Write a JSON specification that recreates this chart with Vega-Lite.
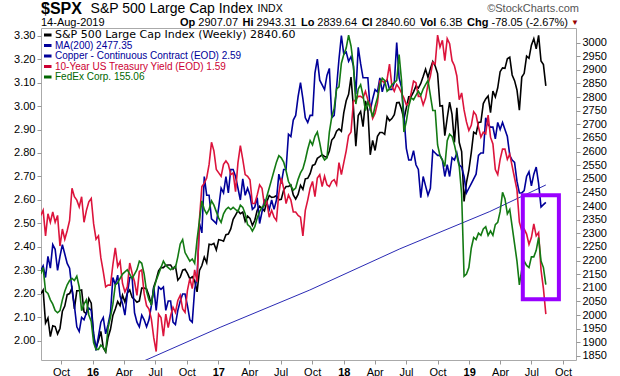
{
"$schema": "https://vega.github.io/schema/vega-lite/v6.json",
"width": 535, "height": 332,
"autosize": {"type": "none"},
"padding": {"left": 41, "top": 28, "right": 44, "bottom": 16},
"background": "white",
"config": {
  "view": {"stroke": "#aaaaaa", "strokeWidth": 1},
  "axis": {"labelFont": "Liberation Sans", "labelFontSize": 11, "labelColor": "#000000", "tickColor": "#999999", "tickSize": 4, "grid": false, "domain": false, "labelPadding": 2, "title": null},
  "text": {"font": "Liberation Sans", "fontSize": 11, "align": "left", "baseline": "middle", "color": "#000000"}
},
"datasets": {
"wk": [
{"d":"2015-08-03","s":2078,"c":2.30,"t":2.17,"f":160},
{"d":"2015-08-10","s":2092,"c":2.32,"t":2.20,"f":163},
{"d":"2015-08-17","s":1971,"c":2.27,"t":2.05,"f":152},
{"d":"2015-08-24","s":1989,"c":2.36,"t":2.18,"f":151},
{"d":"2015-08-31","s":1921,"c":2.31,"t":2.13,"f":148},
{"d":"2015-09-07","s":1961,"c":2.41,"t":2.19,"f":146},
{"d":"2015-09-14","s":1958,"c":2.39,"t":2.13,"f":143},
{"d":"2015-09-21","s":1931,"c":2.30,"t":2.17,"f":142},
{"d":"2015-09-28","s":1951,"c":2.36,"t":1.99,"f":143},
{"d":"2015-10-05","s":2014,"c":2.41,"t":2.09,"f":148},
{"d":"2015-10-12","s":2033,"c":2.37,"t":2.03,"f":152},
{"d":"2015-10-19","s":2075,"c":2.33,"t":2.08,"f":155},
{"d":"2015-10-26","s":2079,"c":2.31,"t":2.14,"f":157},
{"d":"2015-11-02","s":2099,"c":2.22,"t":2.33,"f":158},
{"d":"2015-11-09","s":2023,"c":2.15,"t":2.28,"f":157},
{"d":"2015-11-16","s":2089,"c":2.06,"t":2.26,"f":159},
{"d":"2015-11-23","s":2090,"c":2.04,"t":2.22,"f":154},
{"d":"2015-11-30","s":2092,"c":2.10,"t":2.28,"f":143},
{"d":"2015-12-07","s":2012,"c":2.09,"t":2.13,"f":146},
{"d":"2015-12-14","s":2005,"c":2.12,"t":2.20,"f":148},
{"d":"2015-12-21","s":2061,"c":2.14,"t":2.25,"f":141},
{"d":"2015-12-28","s":2044,"c":2.13,"t":2.27,"f":138},
{"d":"2016-01-04","s":1922,"c":2.03,"t":2.12,"f":128},
{"d":"2016-01-11","s":1880,"c":1.96,"t":2.03,"f":125},
{"d":"2016-01-18","s":1907,"c":2.02,"t":2.05,"f":125},
{"d":"2016-01-25","s":1940,"c":2.08,"t":1.92,"f":127},
{"d":"2016-02-01","s":1880,"c":2.10,"t":1.84,"f":126},
{"d":"2016-02-08","s":1865,"c":2.03,"t":1.75,"f":124},
{"d":"2016-02-15","s":1918,"c":2.07,"t":1.76,"f":135},
{"d":"2016-02-22","s":1948,"c":2.12,"t":1.76,"f":140},
{"d":"2016-02-29","s":1999,"c":2.27,"t":1.88,"f":146},
{"d":"2016-03-07","s":2022,"c":2.24,"t":1.98,"f":155},
{"d":"2016-03-14","s":2050,"c":2.28,"t":1.87,"f":156},
{"d":"2016-03-21","s":2035,"c":2.19,"t":1.90,"f":158},
{"d":"2016-03-28","s":2073,"c":2.16,"t":1.77,"f":160},
{"d":"2016-04-04","s":2048,"c":2.11,"t":1.72,"f":161},
{"d":"2016-04-11","s":2081,"c":2.20,"t":1.75,"f":162},
{"d":"2016-04-18","s":2092,"c":2.27,"t":1.89,"f":160},
{"d":"2016-04-25","s":2065,"c":2.27,"t":1.83,"f":158},
{"d":"2016-05-02","s":2057,"c":2.12,"t":1.78,"f":160},
{"d":"2016-05-09","s":2047,"c":2.08,"t":1.70,"f":162},
{"d":"2016-05-16","s":2052,"c":2.06,"t":1.84,"f":166},
{"d":"2016-05-23","s":2099,"c":2.11,"t":1.85,"f":165},
{"d":"2016-05-30","s":2099,"c":2.09,"t":1.71,"f":160},
{"d":"2016-06-06","s":2096,"c":2.06,"t":1.64,"f":152},
{"d":"2016-06-13","s":2071,"c":2.09,"t":1.62,"f":148},
{"d":"2016-06-20","s":2037,"c":2.15,"t":1.56,"f":146},
{"d":"2016-06-27","s":2103,"c":2.23,"t":1.45,"f":153},
{"d":"2016-07-04","s":2130,"c":2.13,"t":1.37,"f":157},
{"d":"2016-07-11","s":2162,"c":2.23,"t":1.59,"f":160},
{"d":"2016-07-18","s":2175,"c":2.22,"t":1.57,"f":163},
{"d":"2016-07-25","s":2174,"c":2.23,"t":1.46,"f":166},
{"d":"2016-08-01","s":2183,"c":2.13,"t":1.59,"f":164},
{"d":"2016-08-08","s":2184,"c":2.17,"t":1.51,"f":163},
{"d":"2016-08-15","s":2184,"c":2.17,"t":1.58,"f":162},
{"d":"2016-08-22","s":2169,"c":2.08,"t":1.63,"f":163},
{"d":"2016-08-29","s":2180,"c":2.07,"t":1.60,"f":163},
{"d":"2016-09-05","s":2128,"c":2.13,"t":1.67,"f":168},
{"d":"2016-09-12","s":2139,"c":2.17,"t":1.70,"f":174},
{"d":"2016-09-19","s":2165,"c":2.20,"t":1.62,"f":176},
{"d":"2016-09-26","s":2168,"c":2.20,"t":1.60,"f":170},
{"d":"2016-10-03","s":2153,"c":2.15,"t":1.73,"f":168},
{"d":"2016-10-10","s":2133,"c":2.09,"t":1.80,"f":166},
{"d":"2016-10-17","s":2141,"c":2.08,"t":1.74,"f":167},
{"d":"2016-10-24","s":2126,"c":2.22,"t":1.85,"f":165},
{"d":"2016-10-31","s":2085,"c":2.27,"t":1.78,"f":176},
{"d":"2016-11-07","s":2164,"c":2.50,"t":2.15,"f":185},
{"d":"2016-11-14","s":2182,"c":2.46,"t":2.34,"f":194},
{"d":"2016-11-21","s":2213,"c":2.70,"t":2.36,"f":190},
{"d":"2016-11-28","s":2192,"c":2.62,"t":2.39,"f":188},
{"d":"2016-12-05","s":2260,"c":2.62,"t":2.47,"f":190},
{"d":"2016-12-12","s":2258,"c":2.52,"t":2.60,"f":194},
{"d":"2016-12-19","s":2263,"c":2.51,"t":2.55,"f":192},
{"d":"2016-12-26","s":2239,"c":2.50,"t":2.44,"f":189},
{"d":"2017-01-02","s":2277,"c":2.57,"t":2.42,"f":186},
{"d":"2017-01-09","s":2275,"c":2.65,"t":2.40,"f":184},
{"d":"2017-01-16","s":2271,"c":2.63,"t":2.47,"f":188},
{"d":"2017-01-23","s":2295,"c":2.70,"t":2.49,"f":190},
{"d":"2017-01-30","s":2297,"c":2.63,"t":2.47,"f":191},
{"d":"2017-02-06","s":2316,"c":2.73,"t":2.41,"f":190},
{"d":"2017-02-13","s":2351,"c":2.73,"t":2.42,"f":191},
{"d":"2017-02-20","s":2367,"c":2.70,"t":2.31,"f":190},
{"d":"2017-02-27","s":2383,"c":2.65,"t":2.48,"f":189},
{"d":"2017-03-06","s":2372,"c":2.60,"t":2.58,"f":192},
{"d":"2017-03-13","s":2378,"c":2.69,"t":2.50,"f":191},
{"d":"2017-03-20","s":2344,"c":2.62,"t":2.41,"f":188},
{"d":"2017-03-27","s":2363,"c":2.65,"t":2.40,"f":183},
{"d":"2017-04-03","s":2355,"c":2.62,"t":2.38,"f":182},
{"d":"2017-04-10","s":2329,"c":2.56,"t":2.24,"f":180},
{"d":"2017-04-17","s":2348,"c":2.57,"t":2.24,"f":182},
{"d":"2017-04-24","s":2384,"c":2.61,"t":2.29,"f":186},
{"d":"2017-05-01","s":2399,"c":2.50,"t":2.35,"f":189},
{"d":"2017-05-08","s":2391,"c":2.55,"t":2.33,"f":191},
{"d":"2017-05-15","s":2382,"c":2.60,"t":2.23,"f":192},
{"d":"2017-05-22","s":2416,"c":2.59,"t":2.25,"f":196},
{"d":"2017-05-29","s":2439,"c":2.56,"t":2.16,"f":200},
{"d":"2017-06-05","s":2432,"c":2.60,"t":2.20,"f":204},
{"d":"2017-06-12","s":2433,"c":2.56,"t":2.16,"f":208},
{"d":"2017-06-19","s":2438,"c":2.60,"t":2.14,"f":212},
{"d":"2017-06-26","s":2423,"c":2.71,"t":2.30,"f":215},
{"d":"2017-07-03","s":2425,"c":2.67,"t":2.39,"f":214},
{"d":"2017-07-10","s":2459,"c":2.73,"t":2.33,"f":212},
{"d":"2017-07-17","s":2472,"c":2.73,"t":2.24,"f":208},
{"d":"2017-07-24","s":2472,"c":2.88,"t":2.29,"f":203},
{"d":"2017-07-31","s":2477,"c":2.87,"t":2.26,"f":201},
{"d":"2017-08-07","s":2441,"c":2.94,"t":2.19,"f":199},
{"d":"2017-08-14","s":2426,"c":2.96,"t":2.19,"f":200},
{"d":"2017-08-21","s":2443,"c":3.04,"t":2.17,"f":204},
{"d":"2017-08-28","s":2476,"c":3.10,"t":2.16,"f":207},
{"d":"2017-09-04","s":2461,"c":3.03,"t":2.05,"f":209},
{"d":"2017-09-11","s":2500,"c":2.95,"t":2.20,"f":213},
{"d":"2017-09-18","s":2502,"c":2.93,"t":2.26,"f":218},
{"d":"2017-09-25","s":2519,"c":2.96,"t":2.33,"f":222},
{"d":"2017-10-02","s":2549,"c":2.96,"t":2.37,"f":220},
{"d":"2017-10-09","s":2553,"c":3.14,"t":2.28,"f":224},
{"d":"2017-10-16","s":2575,"c":3.20,"t":2.39,"f":226},
{"d":"2017-10-23","s":2581,"c":3.11,"t":2.41,"f":221},
{"d":"2017-10-30","s":2588,"c":3.09,"t":2.34,"f":215},
{"d":"2017-11-06","s":2582,"c":3.07,"t":2.40,"f":213},
{"d":"2017-11-13","s":2579,"c":3.13,"t":2.35,"f":214},
{"d":"2017-11-20","s":2602,"c":3.16,"t":2.34,"f":226},
{"d":"2017-11-27","s":2642,"c":2.95,"t":2.37,"f":233},
{"d":"2017-12-04","s":2652,"c":2.96,"t":2.38,"f":237},
{"d":"2017-12-11","s":2675,"c":3.08,"t":2.35,"f":246},
{"d":"2017-12-18","s":2683,"c":3.20,"t":2.48,"f":247},
{"d":"2017-12-25","s":2674,"c":3.30,"t":2.41,"f":258},
{"d":"2018-01-01","s":2743,"c":3.22,"t":2.48,"f":262},
{"d":"2018-01-08","s":2786,"c":3.23,"t":2.55,"f":265},
{"d":"2018-01-15","s":2810,"c":3.19,"t":2.64,"f":271},
{"d":"2018-01-22","s":2873,"c":3.21,"t":2.66,"f":266},
{"d":"2018-01-29","s":2762,"c":3.17,"t":2.84,"f":257},
{"d":"2018-02-05","s":2620,"c":3.05,"t":2.85,"f":239},
{"d":"2018-02-12","s":2732,"c":3.25,"t":2.87,"f":246},
{"d":"2018-02-19","s":2747,"c":3.18,"t":2.87,"f":248},
{"d":"2018-02-26","s":2691,"c":3.12,"t":2.86,"f":243},
{"d":"2018-03-05","s":2786,"c":3.12,"t":2.90,"f":236},
{"d":"2018-03-12","s":2752,"c":3.12,"t":2.85,"f":240},
{"d":"2018-03-19","s":2588,"c":2.98,"t":2.82,"f":237},
{"d":"2018-03-26","s":2641,"c":3.03,"t":2.74,"f":233},
{"d":"2018-04-02","s":2604,"c":3.07,"t":2.77,"f":238},
{"d":"2018-04-09","s":2656,"c":3.06,"t":2.83,"f":242},
{"d":"2018-04-16","s":2670,"c":3.12,"t":2.96,"f":248},
{"d":"2018-04-23","s":2670,"c":3.06,"t":2.96,"f":251},
{"d":"2018-04-30","s":2663,"c":3.10,"t":2.95,"f":250},
{"d":"2018-05-07","s":2728,"c":3.11,"t":2.97,"f":245},
{"d":"2018-05-14","s":2713,"c":3.07,"t":3.06,"f":246},
{"d":"2018-05-21","s":2721,"c":3.07,"t":2.93,"f":248},
{"d":"2018-05-28","s":2735,"c":3.10,"t":2.90,"f":249},
{"d":"2018-06-04","s":2779,"c":3.27,"t":2.94,"f":250},
{"d":"2018-06-11","s":2780,"c":3.12,"t":2.92,"f":262},
{"d":"2018-06-18","s":2755,"c":3.08,"t":2.89,"f":250},
{"d":"2018-06-25","s":2718,"c":2.96,"t":2.86,"f":226},
{"d":"2018-07-02","s":2760,"c":2.82,"t":2.82,"f":231},
{"d":"2018-07-09","s":2801,"c":2.77,"t":2.83,"f":238},
{"d":"2018-07-16","s":2802,"c":2.77,"t":2.89,"f":242},
{"d":"2018-07-23","s":2819,"c":2.81,"t":2.96,"f":241},
{"d":"2018-07-30","s":2840,"c":2.75,"t":2.95,"f":243},
{"d":"2018-08-06","s":2833,"c":2.73,"t":2.87,"f":245},
{"d":"2018-08-13","s":2850,"c":2.61,"t":2.87,"f":243},
{"d":"2018-08-20","s":2875,"c":2.70,"t":2.82,"f":246},
{"d":"2018-08-27","s":2902,"c":2.66,"t":2.86,"f":248},
{"d":"2018-09-03","s":2872,"c":2.62,"t":2.94,"f":250},
{"d":"2018-09-10","s":2904,"c":2.65,"t":2.99,"f":243},
{"d":"2018-09-17","s":2930,"c":2.81,"t":3.07,"f":236},
{"d":"2018-09-24","s":2914,"c":2.80,"t":3.06,"f":236},
{"d":"2018-10-01","s":2886,"c":2.79,"t":3.23,"f":220},
{"d":"2018-10-08","s":2767,"c":2.79,"t":3.16,"f":215},
{"d":"2018-10-15","s":2768,"c":2.77,"t":3.20,"f":213},
{"d":"2018-10-22","s":2658,"c":2.70,"t":3.08,"f":210},
{"d":"2018-10-29","s":2723,"c":2.75,"t":3.21,"f":222},
{"d":"2018-11-05","s":2781,"c":2.70,"t":3.18,"f":225},
{"d":"2018-11-12","s":2736,"c":2.78,"t":3.08,"f":224},
{"d":"2018-11-19","s":2633,"c":2.77,"t":3.05,"f":220},
{"d":"2018-11-26","s":2760,"c":2.80,"t":2.99,"f":215},
{"d":"2018-12-03","s":2633,"c":2.75,"t":2.85,"f":210},
{"d":"2018-12-10","s":2600,"c":2.74,"t":2.89,"f":197},
{"d":"2018-12-17","s":2417,"c":2.70,"t":2.79,"f":159},
{"d":"2018-12-24","s":2486,"c":2.63,"t":2.72,"f":160},
{"d":"2018-12-31","s":2532,"c":2.65,"t":2.67,"f":163},
{"d":"2019-01-07","s":2596,"c":2.67,"t":2.70,"f":172},
{"d":"2019-01-14","s":2671,"c":2.69,"t":2.78,"f":177},
{"d":"2019-01-21","s":2665,"c":2.71,"t":2.76,"f":176},
{"d":"2019-01-28","s":2707,"c":2.79,"t":2.69,"f":179},
{"d":"2019-02-04","s":2708,"c":2.80,"t":2.63,"f":178},
{"d":"2019-02-11","s":2776,"c":2.80,"t":2.66,"f":181},
{"d":"2019-02-18","s":2793,"c":2.95,"t":2.65,"f":182},
{"d":"2019-02-25","s":2804,"c":2.92,"t":2.76,"f":178},
{"d":"2019-03-04","s":2743,"c":2.91,"t":2.63,"f":180},
{"d":"2019-03-11","s":2822,"c":2.91,"t":2.59,"f":178},
{"d":"2019-03-18","s":2800,"c":2.86,"t":2.44,"f":183},
{"d":"2019-03-25","s":2834,"c":2.93,"t":2.41,"f":184},
{"d":"2019-04-01","s":2893,"c":2.90,"t":2.50,"f":189},
{"d":"2019-04-08","s":2907,"c":2.93,"t":2.56,"f":198},
{"d":"2019-04-15","s":2905,"c":2.90,"t":2.56,"f":195},
{"d":"2019-04-22","s":2940,"c":2.87,"t":2.50,"f":188},
{"d":"2019-04-29","s":2946,"c":2.79,"t":2.53,"f":190},
{"d":"2019-05-06","s":2881,"c":2.77,"t":2.46,"f":182},
{"d":"2019-05-13","s":2860,"c":2.76,"t":2.39,"f":174},
{"d":"2019-05-20","s":2826,"c":2.68,"t":2.32,"f":166},
{"d":"2019-05-27","s":2752,"c":2.63,"t":2.13,"f":155},
{"d":"2019-06-03","s":2873,"c":2.63,"t":2.08,"f":162},
{"d":"2019-06-10","s":2887,"c":2.64,"t":2.09,"f":166},
{"d":"2019-06-17","s":2950,"c":2.70,"t":2.06,"f":164},
{"d":"2019-06-24","s":2942,"c":2.72,"t":2.00,"f":163},
{"d":"2019-07-01","s":2990,"c":2.66,"t":2.04,"f":168},
{"d":"2019-07-08","s":3014,"c":2.71,"t":2.12,"f":168},
{"d":"2019-07-15","s":2977,"c":2.74,"t":2.05,"f":171},
{"d":"2019-07-22","s":3026,"c":2.67,"t":2.07,"f":177},
{"d":"2019-07-29","s":2932,"c":2.57,"t":1.85,"f":166},
{"d":"2019-08-05","s":2919,"c":2.58,"t":1.74,"f":163},
{"d":"2019-08-12","s":2840.6,"c":2.59,"t":1.59,"f":155.06}
],
"ma": [
{"d":"2015-08-03","v":1690},
{"d":"2016-06-04","v":1835},
{"d":"2017-01-06","v":1955},
{"d":"2017-09-24","v":2092},
{"d":"2018-06-13","v":2243},
{"d":"2019-03-02","v":2380},
{"d":"2019-08-12","v":2477.35}
]
},
"layer": [
{"data":{"name":"ma"},"mark":{"type":"line","color":"#2a2ab4","strokeWidth":1,"clip":true},
 "encoding":{"x":{"field":"d","type":"temporal","scale":{"type":"utc","domain":[{"year":2015,"month":8,"date":3,"hours":19,"utc":true},{"year":2019,"month":11,"date":7,"hours":19,"utc":true}],"nice":false},"axis":null},
 "y":{"field":"v","type":"quantitative","scale":{"domain":[1835.3,3053.2],"nice":false,"zero":false},"axis":null}}},
{"data":{"name":"wk"},"mark":{"type":"line","color":"#000000","strokeWidth":1.6,"clip":true},
 "encoding":{"x":{"field":"d","type":"temporal","scale":{"type":"utc","domain":[{"year":2015,"month":8,"date":3,"hours":19,"utc":true},{"year":2019,"month":11,"date":7,"hours":19,"utc":true}],"nice":false},
   "axis":{"orient":"bottom","values":[{"year":2015,"month":10,"date":1,"utc":true},{"year":2016,"month":1,"date":1,"utc":true},{"year":2016,"month":4,"date":1,"utc":true},{"year":2016,"month":7,"date":1,"utc":true},{"year":2016,"month":10,"date":1,"utc":true},{"year":2017,"month":1,"date":1,"utc":true},{"year":2017,"month":4,"date":1,"utc":true},{"year":2017,"month":7,"date":1,"utc":true},{"year":2017,"month":10,"date":1,"utc":true},{"year":2018,"month":1,"date":1,"utc":true},{"year":2018,"month":4,"date":1,"utc":true},{"year":2018,"month":7,"date":1,"utc":true},{"year":2018,"month":10,"date":1,"utc":true},{"year":2019,"month":1,"date":1,"utc":true},{"year":2019,"month":4,"date":1,"utc":true},{"year":2019,"month":7,"date":1,"utc":true},{"year":2019,"month":10,"date":1,"utc":true}],
   "labelExpr":"utcmonth(datum.value)==0 ? utcFormat(datum.value,'%y') : utcFormat(datum.value,'%b')",
   "labelFontWeight":{"condition":{"test":"utcmonth(datum.value)==0","value":"bold"},"value":"normal"},
   "labelFlush":false,"labelOverlap":false}},
 "y":{"field":"s","type":"quantitative","scale":{"domain":[1835.3,3053.2],"nice":false,"zero":false},
   "axis":{"orient":"right","values":[1850,1900,1950,2000,2050,2100,2150,2200,2250,2300,2350,2400,2450,2500,2550,2600,2650,2700,2750,2800,2850,2900,2950,3000],"format":"d","labelOverlap":false}}}},
{"data":{"name":"wk"},"mark":{"type":"line","color":"#000099","strokeWidth":1.6,"clip":true},
 "encoding":{"x":{"field":"d","type":"temporal","scale":{"type":"utc","domain":[{"year":2015,"month":8,"date":3,"hours":19,"utc":true},{"year":2019,"month":11,"date":7,"hours":19,"utc":true}],"nice":false},"axis":null},
 "y":{"field":"c","type":"quantitative","scale":{"domain":[1.919,3.332],"nice":false,"zero":false},
   "axis":{"orient":"left","values":[2.0,2.1,2.2,2.3,2.4,2.5,2.6,2.7,2.8,2.9,3.0,3.1,3.2,3.3],"format":".2f","labelOverlap":false}}}},
{"data":{"name":"wk"},"mark":{"type":"line","color":"#dc143c","strokeWidth":1.6,"clip":true},
 "encoding":{"x":{"field":"d","type":"temporal","scale":{"type":"utc","domain":[{"year":2015,"month":8,"date":3,"hours":19,"utc":true},{"year":2019,"month":11,"date":7,"hours":19,"utc":true}],"nice":false},"axis":null},
 "y":{"field":"t","type":"quantitative","scale":{"domain":[1.32,3.272],"nice":false,"zero":false},"axis":null}}},
{"data":{"name":"wk"},"mark":{"type":"line","color":"#137a13","strokeWidth":1.6,"clip":true},
 "encoding":{"x":{"field":"d","type":"temporal","scale":{"type":"utc","domain":[{"year":2015,"month":8,"date":3,"hours":19,"utc":true},{"year":2019,"month":11,"date":7,"hours":19,"utc":true}],"nice":false},"axis":null},
 "y":{"field":"f","type":"quantitative","scale":{"domain":[120.05,274.35],"nice":false,"zero":false},"axis":null}}},
{"data":{"values":[{"a":"2019-06-06","b":"2019-09-19","lo":2058,"hi":2440}]},
 "mark":{"type":"rect","fill":"transparent","stroke":"#9900ff","strokeWidth":4},
 "encoding":{"x":{"field":"a","type":"temporal","scale":{"type":"utc","domain":[{"year":2015,"month":8,"date":3,"hours":19,"utc":true},{"year":2019,"month":11,"date":7,"hours":19,"utc":true}],"nice":false},"axis":null},
 "x2":{"field":"b"},
 "y":{"field":"hi","type":"quantitative","scale":{"domain":[1835.3,3053.2],"nice":false,"zero":false},"axis":null},
 "y2":{"field":"lo"}}},
{"data":{"values":[{"s":"spx"},{"s":"ma"},{"s":"hg"},{"s":"tnx"},{"s":"fdx"}]},
 "mark":{"type":"rule","strokeWidth":3},
 "encoding":{"x":{"datum":{"year":2015,"month":8,"date":12,"hours":12,"utc":true},"type":"temporal","scale":{"type":"utc","domain":[{"year":2015,"month":8,"date":3,"hours":19,"utc":true},{"year":2019,"month":11,"date":7,"hours":19,"utc":true}],"nice":false},"axis":null},
 "x2":{"datum":{"year":2015,"month":9,"date":3,"hours":10,"utc":true}},
 "y":{"field":"s","type":"nominal","scale":{"type":"point","domain":["spx","ma","hg","tnx","fdx"],"range":[7,49],"padding":0},"axis":null},
 "color":{"field":"s","type":"nominal","scale":{"domain":["spx","ma","hg","tnx","fdx"],"range":["#000000","#000099","#000099","#cc0033","#006600"]},"legend":null}}},
{"data":{"values":[{"s":"spx","t":"S&P 500 Large Cap Index (Weekly) 2840.60"}]},
 "mark":{"type":"text","font":"DejaVu Sans","fontSize":11},
 "encoding":{"x":{"datum":{"year":2015,"month":9,"date":13,"hours":12,"utc":true},"type":"temporal","scale":{"type":"utc","domain":[{"year":2015,"month":8,"date":3,"hours":19,"utc":true},{"year":2019,"month":11,"date":7,"hours":19,"utc":true}],"nice":false},"axis":null},
 "y":{"field":"s","type":"nominal","scale":{"type":"point","domain":["spx","ma","hg","tnx","fdx"],"range":[7,49],"padding":0},"axis":null},
 "color":{"field":"s","type":"nominal","scale":{"domain":["spx","ma","hg","tnx","fdx"],"range":["#000000","#000099","#000099","#cc0033","#006600"]},"legend":null},
 "text":{"field":"t"}}},
{"data":{"values":[{"s":"ma","t":"MA(200) 2477.35"},{"s":"hg","t":"Copper - Continuous Contract (EOD) 2.59"},{"s":"tnx","t":"10-Year US Treasury Yield (EOD) 1.59"},{"s":"fdx","t":"FedEx Corp. 155.06"}]},
 "mark":{"type":"text","font":"Liberation Sans","fontSize":10},
 "encoding":{"x":{"datum":{"year":2015,"month":9,"date":13,"hours":12,"utc":true},"type":"temporal","scale":{"type":"utc","domain":[{"year":2015,"month":8,"date":3,"hours":19,"utc":true},{"year":2019,"month":11,"date":7,"hours":19,"utc":true}],"nice":false},"axis":null},
 "y":{"field":"s","type":"nominal","scale":{"type":"point","domain":["spx","ma","hg","tnx","fdx"],"range":[7,49],"padding":0},"axis":null},
 "color":{"field":"s","type":"nominal","scale":{"domain":["spx","ma","hg","tnx","fdx"],"range":["#000000","#000099","#000099","#cc0033","#006600"]},"legend":null},
 "text":{"field":"t"}}},
{"data":{"values":[{"t":"$SPX"}]},"mark":{"type":"text","fontWeight":"bold","fontSize":16},
 "encoding":{"x":{"datum":{"year":2015,"month":8,"date":3,"hours":19,"utc":true},"type":"temporal","scale":{"type":"utc","domain":[{"year":2015,"month":8,"date":3,"hours":19,"utc":true},{"year":2019,"month":11,"date":7,"hours":19,"utc":true}],"nice":false},"axis":null},
 "y":{"datum":3122.9,"type":"quantitative","scale":{"domain":[1835.3,3053.2],"nice":false,"zero":false},"axis":null},"text":{"field":"t"}}},
{"data":{"values":[{"t":"S&P 500 Large Cap Index"}]},"mark":{"type":"text","fontSize":14},
 "encoding":{"x":{"datum":{"year":2015,"month":12,"date":26,"hours":0,"utc":true},"type":"temporal","scale":{"type":"utc","domain":[{"year":2015,"month":8,"date":3,"hours":19,"utc":true},{"year":2019,"month":11,"date":7,"hours":19,"utc":true}],"nice":false},"axis":null},
 "y":{"datum":3122.9,"type":"quantitative","scale":{"domain":[1835.3,3053.2],"nice":false,"zero":false},"axis":null},"text":{"field":"t"}}},
{"data":{"values":[{"t":"INDX"}]},"mark":{"type":"text","fontSize":10.5},
 "encoding":{"x":{"datum":{"year":2017,"month":4,"date":25,"hours":0,"utc":true},"type":"temporal","scale":{"type":"utc","domain":[{"year":2015,"month":8,"date":3,"hours":19,"utc":true},{"year":2019,"month":11,"date":7,"hours":19,"utc":true}],"nice":false},"axis":null},
 "y":{"datum":3122.9,"type":"quantitative","scale":{"domain":[1835.3,3053.2],"nice":false,"zero":false},"axis":null},"text":{"field":"t"}}},
{"data":{"values":[{"t":"©StockCharts.com"}]},"mark":{"type":"text","align":"right","fontSize":11,"color":"#555555"},
 "encoding":{"x":{"datum":{"year":2019,"month":11,"date":16,"hours":14,"utc":true},"type":"temporal","scale":{"type":"utc","domain":[{"year":2015,"month":8,"date":3,"hours":19,"utc":true},{"year":2019,"month":11,"date":7,"hours":19,"utc":true}],"nice":false},"axis":null},
 "y":{"datum":3122.9,"type":"quantitative","scale":{"domain":[1835.3,3053.2],"nice":false,"zero":false},"axis":null},"text":{"field":"t"}}},
{"data":{"values":[{"t":"14-Aug-2019"}]},"mark":{"type":"text"},
 "encoding":{"x":{"datum":{"year":2015,"month":8,"date":3,"hours":19,"utc":true},"type":"temporal","scale":{"type":"utc","domain":[{"year":2015,"month":8,"date":3,"hours":19,"utc":true},{"year":2019,"month":11,"date":7,"hours":19,"utc":true}],"nice":false},"axis":null},
 "y":{"datum":3071.5,"type":"quantitative","scale":{"domain":[1835.3,3053.2],"nice":false,"zero":false},"axis":null},"text":{"field":"t"}}},
{"data":{"values":[{"t":"Op"}]},"mark":{"type":"text","fontWeight":"bold"},
 "encoding":{"x":{"datum":{"year":2016,"month":9,"date":11,"hours":7,"utc":true},"type":"temporal","scale":{"type":"utc","domain":[{"year":2015,"month":8,"date":3,"hours":19,"utc":true},{"year":2019,"month":11,"date":7,"hours":19,"utc":true}],"nice":false},"axis":null},
 "y":{"datum":3071.5,"type":"quantitative","scale":{"domain":[1835.3,3053.2],"nice":false,"zero":false},"axis":null},"text":{"field":"t"}}},
{"data":{"values":[{"t":"2907.07"}]},"mark":{"type":"text"},
 "encoding":{"x":{"datum":{"year":2016,"month":11,"date":3,"hours":14,"utc":true},"type":"temporal","scale":{"type":"utc","domain":[{"year":2015,"month":8,"date":3,"hours":19,"utc":true},{"year":2019,"month":11,"date":7,"hours":19,"utc":true}],"nice":false},"axis":null},
 "y":{"datum":3071.5,"type":"quantitative","scale":{"domain":[1835.3,3053.2],"nice":false,"zero":false},"axis":null},"text":{"field":"t"}}},
{"data":{"values":[{"t":"Hi"}]},"mark":{"type":"text","fontWeight":"bold"},
 "encoding":{"x":{"datum":{"year":2017,"month":3,"date":12,"hours":12,"utc":true},"type":"temporal","scale":{"type":"utc","domain":[{"year":2015,"month":8,"date":3,"hours":19,"utc":true},{"year":2019,"month":11,"date":7,"hours":19,"utc":true}],"nice":false},"axis":null},
 "y":{"datum":3071.5,"type":"quantitative","scale":{"domain":[1835.3,3053.2],"nice":false,"zero":false},"axis":null},"text":{"field":"t"}}},
{"data":{"values":[{"t":"2943.31"}]},"mark":{"type":"text"},
 "encoding":{"x":{"datum":{"year":2017,"month":4,"date":22,"hours":7,"utc":true},"type":"temporal","scale":{"type":"utc","domain":[{"year":2015,"month":8,"date":3,"hours":19,"utc":true},{"year":2019,"month":11,"date":7,"hours":19,"utc":true}],"nice":false},"axis":null},
 "y":{"datum":3071.5,"type":"quantitative","scale":{"domain":[1835.3,3053.2],"nice":false,"zero":false},"axis":null},"text":{"field":"t"}}},
{"data":{"values":[{"t":"Lo"}]},"mark":{"type":"text","fontWeight":"bold"},
 "encoding":{"x":{"datum":{"year":2017,"month":8,"date":29,"hours":5,"utc":true},"type":"temporal","scale":{"type":"utc","domain":[{"year":2015,"month":8,"date":3,"hours":19,"utc":true},{"year":2019,"month":11,"date":7,"hours":19,"utc":true}],"nice":false},"axis":null},
 "y":{"datum":3071.5,"type":"quantitative","scale":{"domain":[1835.3,3053.2],"nice":false,"zero":false},"axis":null},"text":{"field":"t"}}},
{"data":{"values":[{"t":"2839.64"}]},"mark":{"type":"text"},
 "encoding":{"x":{"datum":{"year":2017,"month":10,"date":16,"hours":0,"utc":true},"type":"temporal","scale":{"type":"utc","domain":[{"year":2015,"month":8,"date":3,"hours":19,"utc":true},{"year":2019,"month":11,"date":7,"hours":19,"utc":true}],"nice":false},"axis":null},
 "y":{"datum":3071.5,"type":"quantitative","scale":{"domain":[1835.3,3053.2],"nice":false,"zero":false},"axis":null},"text":{"field":"t"}}},
{"data":{"values":[{"t":"Cl"}]},"mark":{"type":"text","fontWeight":"bold"},
 "encoding":{"x":{"datum":{"year":2018,"month":2,"date":21,"hours":22,"utc":true},"type":"temporal","scale":{"type":"utc","domain":[{"year":2015,"month":8,"date":3,"hours":19,"utc":true},{"year":2019,"month":11,"date":7,"hours":19,"utc":true}],"nice":false},"axis":null},
 "y":{"datum":3071.5,"type":"quantitative","scale":{"domain":[1835.3,3053.2],"nice":false,"zero":false},"axis":null},"text":{"field":"t"}}},
{"data":{"values":[{"t":"2840.60"}]},"mark":{"type":"text"},
 "encoding":{"x":{"datum":{"year":2018,"month":4,"date":3,"hours":14,"utc":true},"type":"temporal","scale":{"type":"utc","domain":[{"year":2015,"month":8,"date":3,"hours":19,"utc":true},{"year":2019,"month":11,"date":7,"hours":19,"utc":true}],"nice":false},"axis":null},
 "y":{"datum":3071.5,"type":"quantitative","scale":{"domain":[1835.3,3053.2],"nice":false,"zero":false},"axis":null},"text":{"field":"t"}}},
{"data":{"values":[{"t":"Vol"}]},"mark":{"type":"text","fontWeight":"bold"},
 "encoding":{"x":{"datum":{"year":2018,"month":8,"date":10,"hours":12,"utc":true},"type":"temporal","scale":{"type":"utc","domain":[{"year":2015,"month":8,"date":3,"hours":19,"utc":true},{"year":2019,"month":11,"date":7,"hours":19,"utc":true}],"nice":false},"axis":null},
 "y":{"datum":3071.5,"type":"quantitative","scale":{"domain":[1835.3,3053.2],"nice":false,"zero":false},"axis":null},"text":{"field":"t"}}},
{"data":{"values":[{"t":"6.3B"}]},"mark":{"type":"text"},
 "encoding":{"x":{"datum":{"year":2018,"month":10,"date":8,"hours":0,"utc":true},"type":"temporal","scale":{"type":"utc","domain":[{"year":2015,"month":8,"date":3,"hours":19,"utc":true},{"year":2019,"month":11,"date":7,"hours":19,"utc":true}],"nice":false},"axis":null},
 "y":{"datum":3071.5,"type":"quantitative","scale":{"domain":[1835.3,3053.2],"nice":false,"zero":false},"axis":null},"text":{"field":"t"}}},
{"data":{"values":[{"t":"Chg"}]},"mark":{"type":"text","fontWeight":"bold"},
 "encoding":{"x":{"datum":{"year":2018,"month":12,"date":25,"hours":22,"utc":true},"type":"temporal","scale":{"type":"utc","domain":[{"year":2015,"month":8,"date":3,"hours":19,"utc":true},{"year":2019,"month":11,"date":7,"hours":19,"utc":true}],"nice":false},"axis":null},
 "y":{"datum":3071.5,"type":"quantitative","scale":{"domain":[1835.3,3053.2],"nice":false,"zero":false},"axis":null},"text":{"field":"t"}}},
{"data":{"values":[{"t":"-78.05 (-2.67%)"}]},"mark":{"type":"text"},
 "encoding":{"x":{"datum":{"year":2019,"month":3,"date":6,"hours":22,"utc":true},"type":"temporal","scale":{"type":"utc","domain":[{"year":2015,"month":8,"date":3,"hours":19,"utc":true},{"year":2019,"month":11,"date":7,"hours":19,"utc":true}],"nice":false},"axis":null},
 "y":{"datum":3071.5,"type":"quantitative","scale":{"domain":[1835.3,3053.2],"nice":false,"zero":false},"axis":null},"text":{"field":"t"}}},
{"data":{"values":[{"t":"▼"}]},"mark":{"type":"text","fontSize":8,"color":"#990000"},
 "encoding":{"x":{"datum":{"year":2019,"month":10,"date":24,"hours":7,"utc":true},"type":"temporal","scale":{"type":"utc","domain":[{"year":2015,"month":8,"date":3,"hours":19,"utc":true},{"year":2019,"month":11,"date":7,"hours":19,"utc":true}],"nice":false},"axis":null},
 "y":{"datum":3071.5,"type":"quantitative","scale":{"domain":[1835.3,3053.2],"nice":false,"zero":false},"axis":null},"text":{"field":"t"}}}
],
"resolve": {"scale": {"x": "independent", "y": "independent"}}
}
